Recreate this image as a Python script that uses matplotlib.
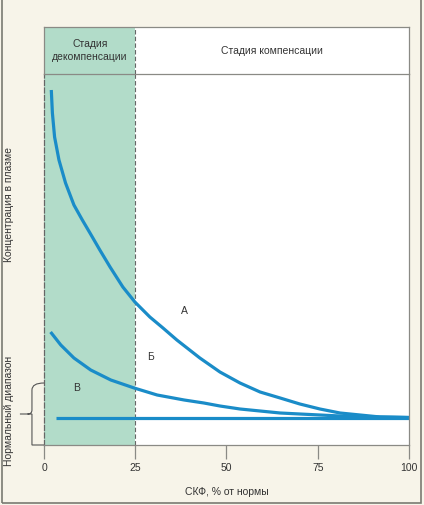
import numpy as np
import matplotlib.pyplot as plt
from matplotlib.path import Path
from matplotlib.patches import PathPatch, Rectangle

plt.rcParams['font.family'] = ['Liberation Sans Narrow', 'Liberation Sans', 'DejaVu Sans']

# кривые (СКФ, %  -> концентрация, усл. ед.)
a_x = [2.0, 2.3, 2.9, 4.1, 5.9, 8.2, 10.5, 12.6, 15.3, 18.1, 21.6, 24.9, 29.0, 32.6, 36.4,
       42.7, 48.2, 53.7, 59.2, 64.7, 70.1, 75.6, 81.1, 86.6, 92.1, 100]
a_y = [355, 332, 308, 285, 262, 240, 225, 212, 195, 178, 158, 143, 128, 117, 105,
       87, 73, 62, 53, 47, 41, 36, 32, 30, 28, 27.5]
b_x = [1.8, 4.6, 8.2, 12.8, 18.3, 24.7, 31.0, 38.4, 43.8, 48.2, 53.7, 59.2, 64.7, 70.1,
       75.6, 81.1, 92.1, 100]
b_y = [113, 100, 87, 75, 65, 57, 50, 45, 42, 39, 36, 34, 32, 31, 30, 29, 28, 27.5]
v_x = [3.2, 100]
v_y = [27.5, 27.5]
x_ticks = [0, 25, 50, 75, 100]
stages = ['Стадия\nдекомпенсации', 'Стадия компенсации']
curve_labels = ['А', 'Б', 'В']

blue = '#1a8cc8'
green = '#b2dcc9'
cream = '#f7f4e9'
gray = '#8a8a85'
txt = '#333333'

fig = plt.figure(figsize=(4.24, 5.05), dpi=100, facecolor=cream)
W, H = 424, 505
ax = fig.add_axes([44 / W, (H - 445) / H, 365 / W, 371 / H])
hd = fig.add_axes([44 / W, (H - 74) / H, 365 / W, 47 / H])

for a in (ax, hd):
    a.set_facecolor('white')
    a.set_xlim(0, 100)
    a.axvspan(0, 25, color=green, lw=0, zorder=0)
    a.axvline(25, color='#666666', ls=(0, (4, 2)), lw=0.8, zorder=1)
    for s in a.spines.values():
        s.set_color(gray)
        s.set_linewidth(0.9)

ax.set_ylim(0, 371)
for xs, ys in [(a_x, a_y), (b_x, b_y), (v_x, v_y)]:
    ax.plot(xs, ys, color=blue, lw=2.3, solid_capstyle='butt', solid_joinstyle='round')
ax.spines['left'].set_linestyle((0, (4, 2)))
ax.spines['left'].set_color('#666666')
ax.spines['top'].set_visible(False)
ax.set_yticks([])
ax.set_xticks(x_ticks)
ax.set_xticklabels([str(t) for t in x_ticks], fontsize=7.5, color=txt)
ax.tick_params(axis='x', length=10, width=0.9, color=gray, pad=3)
ax.set_xlabel('СКФ, % от нормы', fontsize=7.5, color=txt, labelpad=10)

ax.text(38.6, 134, curve_labels[0], fontsize=7.5, ha='center', va='center', color=txt)
ax.text(29.3, 88, curve_labels[1], fontsize=7.5, ha='center', va='center', color=txt)
ax.text(9, 57, curve_labels[2], fontsize=7.5, ha='center', va='center', color=txt)

hd.set_ylim(0, 1)
hd.set_xticks([])
hd.set_yticks([])
hd.text(12.6, 0.5, stages[0], fontsize=7.5, ha='center', va='center', color=txt, linespacing=1.45)
hd.text(62.5, 0.5, stages[1], fontsize=7.5, ha='center', va='center', color=txt)

# фигурная скобка нормального диапазона
verts = [(0, 62), (-3.3, 62), (-3.3, 55), (-3.3, 35), (-3.3, 31), (-4.5, 31), (-6.6, 31),
         (-4.5, 31), (-3.3, 31), (-3.3, 27), (-3.3, 7), (-3.3, 0), (0, 0)]
codes = [Path.MOVETO, Path.CURVE3, Path.CURVE3, Path.LINETO, Path.CURVE3, Path.CURVE3,
         Path.MOVETO, Path.CURVE3, Path.CURVE3, Path.LINETO, Path.CURVE3, Path.CURVE3, Path.LINETO]
ax.add_patch(PathPatch(Path(verts, codes), fill=False, color='#555555', lw=0.8, clip_on=False))

fig.text(9 / W, (H - 205) / H, 'Концентрация в плазме', rotation=90, fontsize=7.5,
         ha='center', va='center', color=txt)
fig.text(9 / W, (H - 411) / H, 'Нормальный диапазон', rotation=90, fontsize=7.5,
         ha='center', va='center', color=txt)

fig.patches.append(Rectangle((2 / W, 2 / H), 419 / W, 1.2, transform=fig.transFigure,
                             fill=False, edgecolor='#7a7a72', lw=1.2))

fig.savefig('out.png', dpi=100, facecolor=cream)
